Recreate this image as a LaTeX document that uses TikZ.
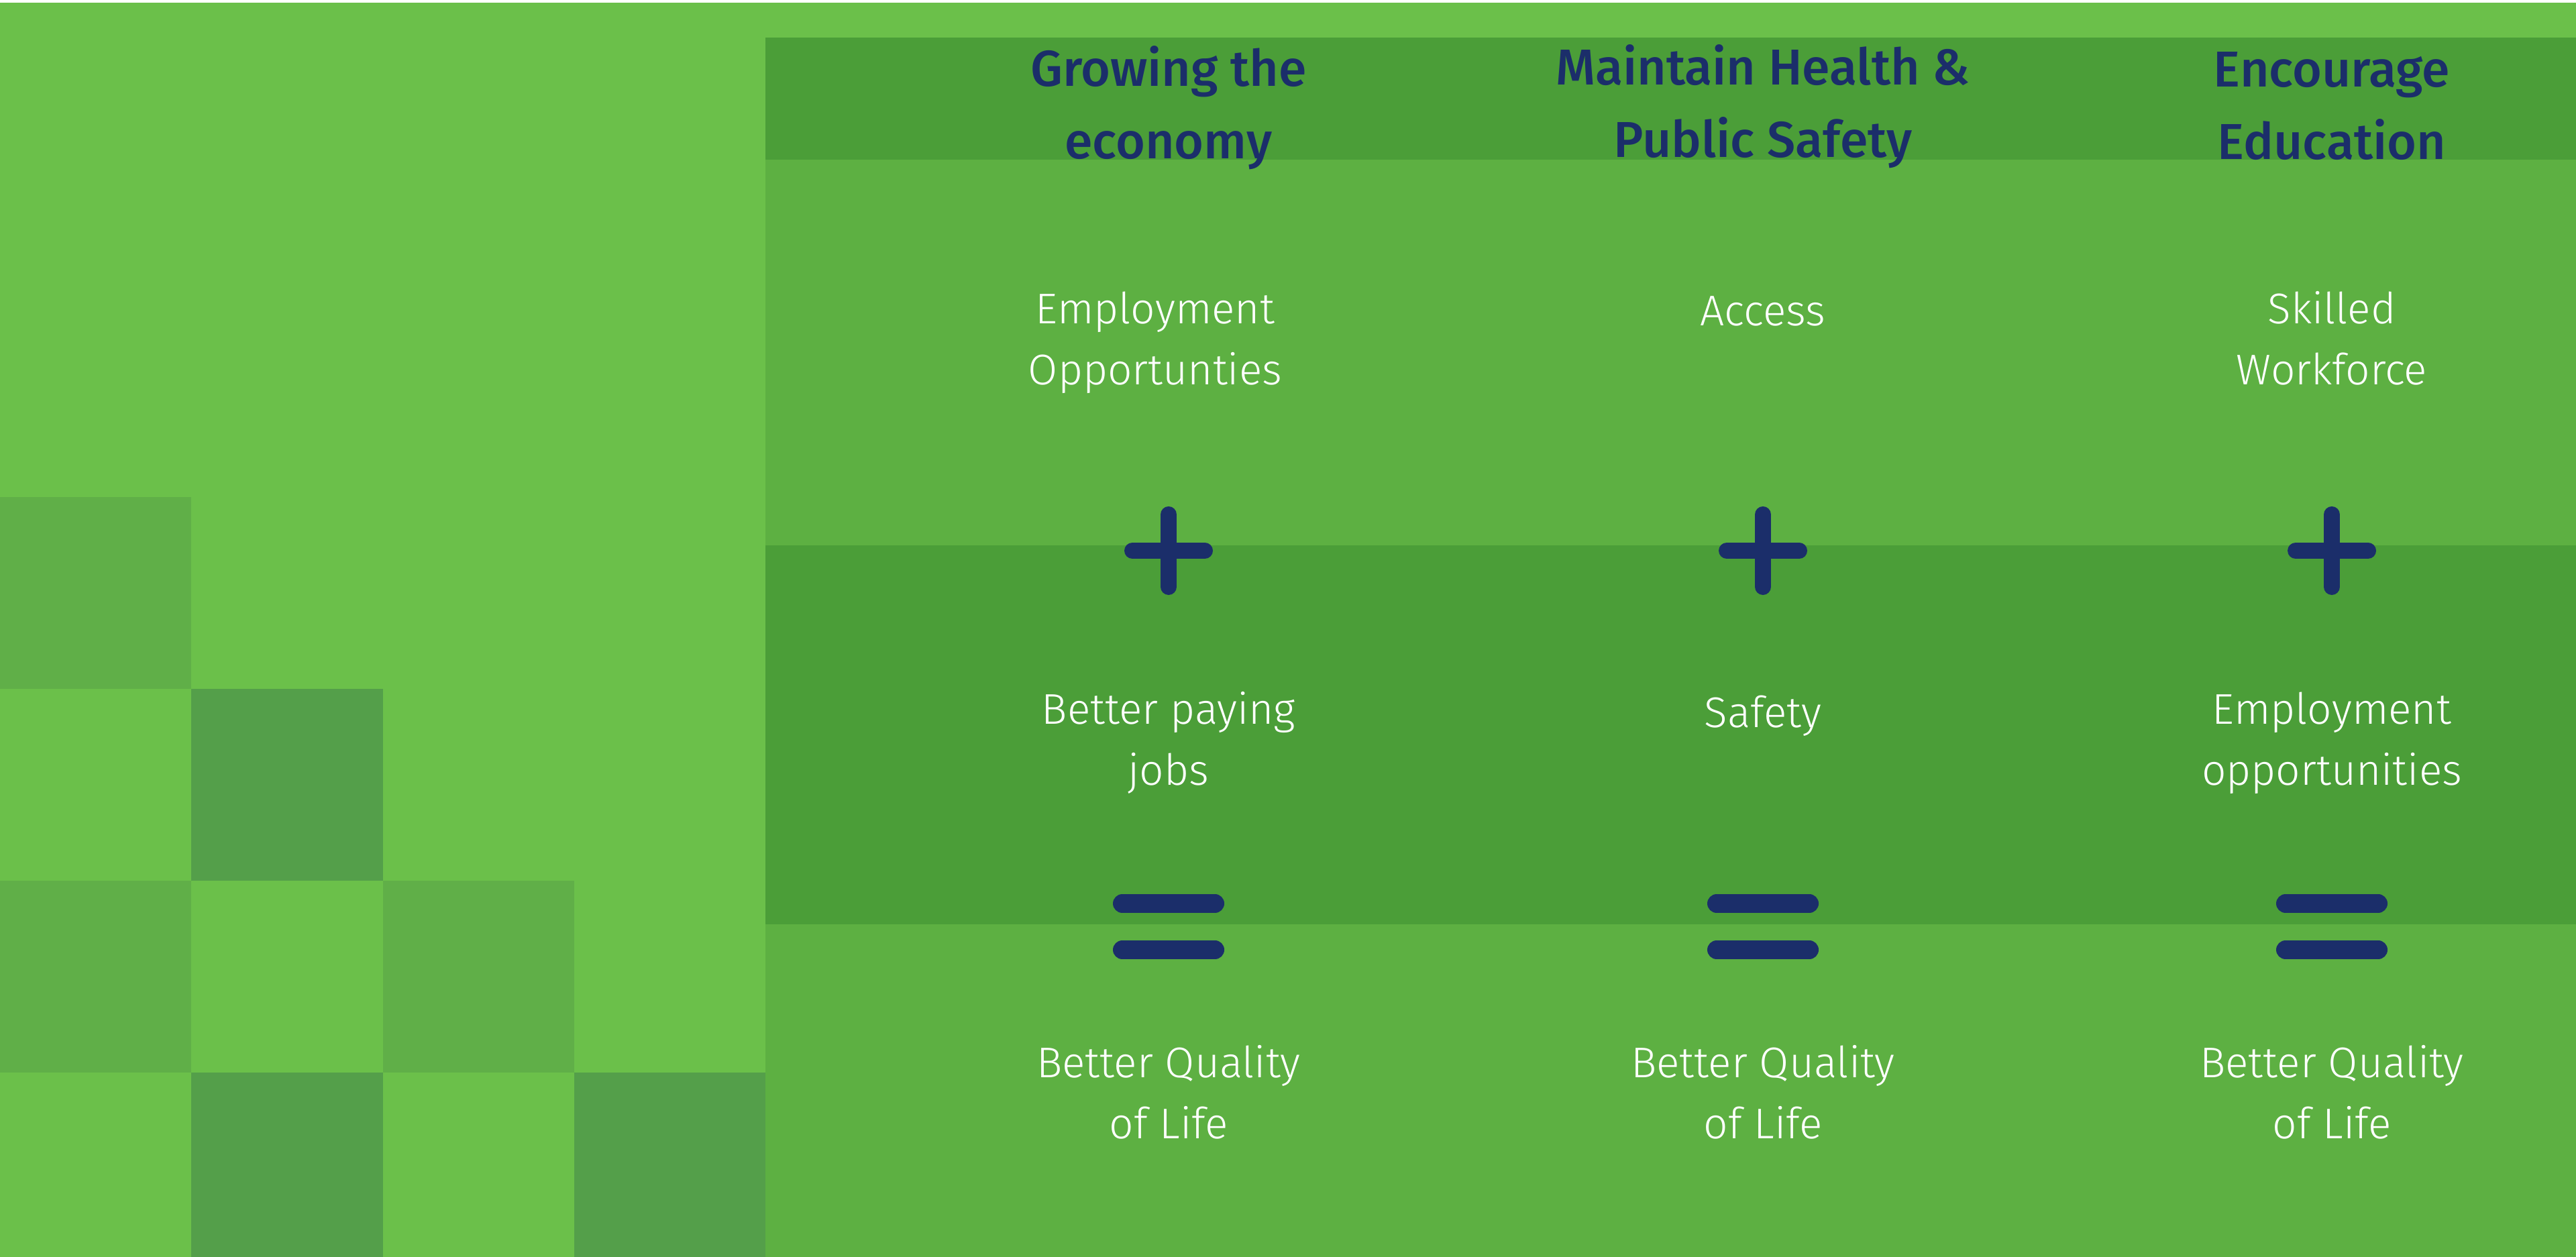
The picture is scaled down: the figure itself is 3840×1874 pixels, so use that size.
\documentclass[tikz,border=0pt]{standalone}
\usepackage{fontspec}
\setmainfont{Fira Sans Light}
\newfontfamily\headfont{Fira Sans Medium}
\usetikzlibrary{positioning}
\definecolor{bglight}{RGB}{107,192,74}
\definecolor{sqmid}{RGB}{96,175,72}
\definecolor{sqdark}{RGB}{84,159,74}
\definecolor{panel}{RGB}{93,176,66}
\definecolor{band}{RGB}{75,158,56}
\definecolor{navy}{RGB}{27,46,106}

\begin{document}
\begin{tikzpicture}[x=.01cm,y=-.01cm,
	head/.style={align=center,inner sep=0pt,anchor=north,text=navy,font=\headfont\fontsize{21.4}{30.7}\selectfont},
	cell/.style={align=center,inner sep=0pt,anchor=north,text=white,font=\fontsize{18.2}{25.9}\selectfont},
	plussign/.style={navy,line width=.24cm,line cap=round},
	eqsign/.style={navy,line width=.28cm,line cap=round}]
			\useasboundingbox (0,0) rectangle (3840,1874);
			\fill[white] (0,0) rectangle (3840,1874);
			\fill[bglight] (0,4) rectangle (3840,1874);
			\begin{scope}
				\clip (0,0) rectangle (1141,1874);
				\foreach \x/\y/\z in {0/0/sqmid,1/1/sqdark,0/2/sqmid,2/2/sqmid,1/3/sqdark,3/3/sqdark} \fill[\z] (\x*285.3,741+\y*286) rectangle ++(285.3,286);
			\end{scope}
			\fill[panel] (1141,56) rectangle (3840,1874);
			\fill[band] (1141,56) rectangle (3840,238);
			\fill[band] (1141,813) rectangle (3840,1378);
			% headings
			\node[head] (goalA) at (1742,68) {Growing the\\economy};
			\node[head] (goalB) at (2628,66) {Maintain Health \&\\Public Safety};
			\node[head] (goalC) at (3476,77) {Encourage\\Education};
			% first terms
			\node[cell] (firstA) at (1722,434) {Employment\\Opportunties};
			\node[cell] (firstB) at (2628,441) {Access};
			\node[cell] (firstC) at (3476,434) {Skilled\\Workforce};
			% second terms
			\node[cell] (secondA) at (1742,1031) {Better paying\\jobs};
			\node[cell] (secondB) at (2628,1036) {Safety};
			\node[cell] (secondC) at (3476,1031) {Employment\\opportunities};
			% results
			\node[cell] (resultA) at (1742,1558) {Better Quality\\of Life};
			\node[cell] (resultB) at (2628,1558) {Better Quality\\of Life};
			\node[cell] (resultC) at (3476,1558) {Better Quality\\of Life};
			% plus and equal signs
			\foreach \x in {1742,2628,3476} {
				\draw[plussign] (\x-54,821) -- (\x+54,821);
				\draw[plussign] (\x,767) -- (\x,875);
				\draw[eqsign] (\x-69,1347) -- (\x+69,1347);
				\draw[eqsign] (\x-69,1416) -- (\x+69,1416);
			}
		\end{tikzpicture}
\end{document}
